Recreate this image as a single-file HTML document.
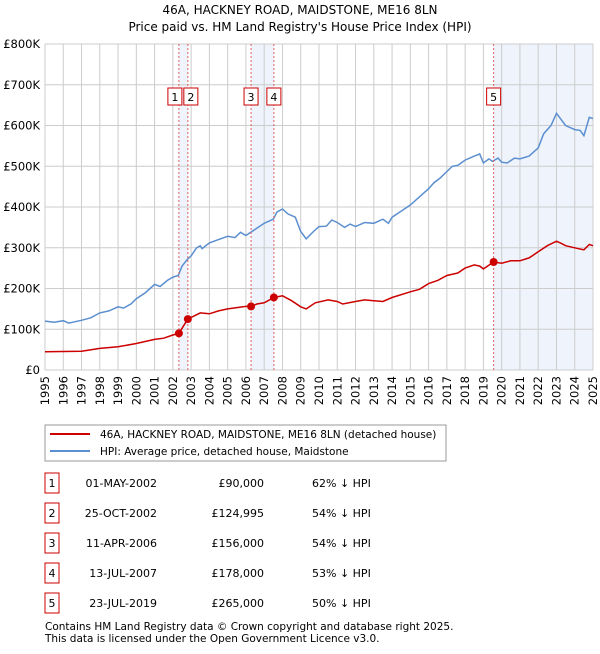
<!DOCTYPE html>
<html><head><meta charset="utf-8"><style>
body{margin:0;background:#fff;font-family:"DejaVu Sans","Liberation Sans",sans-serif;}
svg text{font-family:"DejaVu Sans","Liberation Sans",sans-serif;fill:#000}
</style></head><body>
<svg id="chart" width="600" height="650" viewBox="0 0 600 650" xmlns="http://www.w3.org/2000/svg">
<text x="300" y="14" font-size="12" text-anchor="middle">46A, HACKNEY ROAD, MAIDSTONE, ME16 8LN</text>
<text x="300" y="31" font-size="12" text-anchor="middle">Price paid vs. HM Land Registry's House Price Index (HPI)</text>
<g id="bands"></g><g id="grid"></g><g id="axes"></g><g id="lines"></g><g id="marks"></g>
<rect x="45" y="425" width="401" height="36" fill="#fff" stroke="#999"/>
<line x1="50" y1="434" x2="90" y2="434" stroke="#cc0000" stroke-width="2"/>
<text x="100" y="438" font-size="10.5">46A, HACKNEY ROAD, MAIDSTONE, ME16 8LN (detached house)</text>
<line x1="50" y1="451" x2="90" y2="451" stroke="#5b8fd0" stroke-width="2"/>
<text x="100" y="455" font-size="10.5">HPI: Average price, detached house, Maidstone</text>
<g id="table"></g>
<text x="45" y="630" font-size="10.5" fill="#333">Contains HM Land Registry data © Crown copyright and database right 2025.</text>
<text x="45" y="642" font-size="10.5" fill="#333">This data is licensed under the Open Government Licence v3.0.</text>
</svg>
<script>
const hpiX=[1995,1995.5,1996,1996.3,1997,1997.5,1998,1998.5,1999,1999.3,1999.7,2000,2000.5,2001,2001.3,2001.7,2002,2002.3,2002.5,2002.8,2003,2003.3,2003.5,2003.6,2004,2004.5,2005,2005.4,2005.7,2006,2006.5,2007,2007.5,2007.7,2008,2008.3,2008.7,2009,2009.3,2009.7,2010,2010.4,2010.7,2011,2011.4,2011.7,2012,2012.5,2013,2013.5,2013.8,2014,2014.5,2015,2015.5,2016,2016.3,2016.6,2017,2017.3,2017.6,2018,2018.5,2018.8,2019,2019.3,2019.5,2019.8,2020,2020.3,2020.7,2021,2021.5,2022,2022.3,2022.7,2023,2023.3,2023.5,2024,2024.3,2024.5,2024.8,2025];
const hpiY=[120,117,121,115,122,128,140,145,155,152,162,175,190,210,205,220,228,232,255,272,280,300,305,298,312,320,328,325,338,330,345,360,370,388,395,383,375,340,322,340,352,353,368,362,350,358,352,362,360,370,360,375,390,405,425,445,460,470,487,500,502,515,525,530,508,518,512,520,510,508,520,518,525,545,580,600,630,612,600,590,588,575,620,617];
const ppX=[1995,1997,1998,1999,2000,2001,2001.5,2002,2002.33,2002.82,2003.5,2004,2004.5,2005,2006,2006.28,2006.6,2007,2007.53,2008,2008.5,2009,2009.3,2009.8,2010.5,2011,2011.3,2012,2012.5,2013,2013.5,2014,2015,2015.5,2016,2016.5,2017,2017.6,2018,2018.5,2018.8,2019,2019.56,2020,2020.5,2021,2021.5,2022,2022.5,2023,2023.3,2023.5,2024,2024.5,2024.8,2025];
const ppY=[45,46,53,57,65,75,78,86,90,125,140,138,145,150,156,156,162,165,178,182,170,155,150,165,172,168,162,168,172,170,168,178,192,198,212,220,232,238,250,258,255,248,265,262,268,268,275,290,305,316,310,305,300,295,308,305];
const saleLabels=["1","2","3","4","5"];
const saleDates=[2002.33,2002.82,2006.28,2007.53,2019.56];
const salePrices=[90,124.995,156,178,265];
const saleDateText=["01-MAY-2002","25-OCT-2002","11-APR-2006","13-JUL-2007","23-JUL-2019"];
const salePriceText=["£90,000","£124,995","£156,000","£178,000","£265,000"];
const saleHpiText=["62% ↓ HPI","54% ↓ HPI","54% ↓ HPI","53% ↓ HPI","50% ↓ HPI"];
const yTicks=[0,100,200,300,400,500,600,700,800];
const yTickLabels=["£0","£100K","£200K","£300K","£400K","£500K","£600K","£700K","£800K"];
const xYears=[1995,1996,1997,1998,1999,2000,2001,2002,2003,2004,2005,2006,2007,2008,2009,2010,2011,2012,2013,2014,2015,2016,2017,2018,2019,2020,2021,2022,2023,2024,2025];

const NS="http://www.w3.org/2000/svg";
const X0=45,X1=593,Y0=370,Y1=44;
const sx=v=>X0+(v-1995)/30*(X1-X0);
const sy=v=>Y0-v/800*(Y0-Y1);
function mk(tag,attrs,parent,txt){const e=document.createElementNS(NS,tag);for(const k in attrs)e.setAttribute(k,attrs[k]);if(txt!==undefined)e.textContent=txt;document.getElementById(parent).appendChild(e);return e;}
// bands
[[0,1],[2,3]].forEach(([a,b],i)=>{const r=mk('rect',{x:sx(saleDates[a]),y:Y1,width:sx(saleDates[b])-sx(saleDates[a]),height:Y0-Y1,fill:'#eef3fc'},'bands');

});
{const r=mk('rect',{x:sx(saleDates[4]),y:Y1,width:X1-sx(saleDates[4]),height:Y0-Y1,fill:'#eef3fc'},'bands');

}
// grid
yTicks.forEach((t,i)=>{const l=mk('line',{x1:X0,x2:X1,y1:sy(t),y2:sy(t),stroke:'#ccc'},'grid');


const tx=mk('text',{x:X0-5,y:sy(t)+4,'font-size':11.5,'text-anchor':'end'},'axes',yTickLabels[i]);

});
xYears.forEach(yr=>{const l=mk('line',{x1:sx(yr),x2:sx(yr),y1:Y1,y2:Y0,stroke:'#ccc'},'grid');


const tx=mk('text',{x:0,y:0,'font-size':11.5,'text-anchor':'end',transform:`translate(${sx(yr)+4},${Y0+6}) rotate(-90)`},'axes',String(yr));

});
// sale vlines + labels
saleDates.forEach((d,i)=>{const l=mk('line',{x1:sx(d),x2:sx(d),y1:Y1,y2:Y0,stroke:'#e06060','stroke-dasharray':'2,2'},'marks');

});
// lines
const pts=(xs,ys)=>xs.map((x,i)=>sx(x).toFixed(1)+','+sy(ys[i]).toFixed(1)).join(' ');
const h=mk('polyline',{points:pts(hpiX,hpiY),fill:'none',stroke:'#5b8fd0','stroke-width':1.5},'lines');


const p=mk('polyline',{points:pts(ppX,ppY),fill:'none',stroke:'#cc0000','stroke-width':1.5},'lines');


saleDates.forEach((d,i)=>{const c=mk('circle',{cx:sx(d),cy:sy(salePrices[i]),r:4,fill:'#cc0000'},'marks');


let bx=sx(d)-7; if(i==0)bx=sx(d)-11; if(i==1)bx=sx(d)-4;
const r=mk('rect',{x:bx,y:88,width:14,height:17,fill:'#fff',stroke:'#cc0000'},'marks');


const t=mk('text',{x:bx+7,y:101,'font-size':11,'text-anchor':'middle'},'marks',saleLabels[i]);


// table
const ry=483+i*30;
const tb=mk('rect',{x:45,y:ry-10,width:14,height:20,fill:'#fff',stroke:'#cc0000'},'table');


const t1=mk('text',{x:52,y:ry+4,'font-size':11,'text-anchor':'middle'},'table',saleLabels[i]);


const t2=mk('text',{x:157,y:ry+4,'font-size':11,'text-anchor':'end'},'table',saleDateText[i]);


const t3=mk('text',{x:264,y:ry+4,'font-size':11,'text-anchor':'end'},'table',salePriceText[i]);


const t4=mk('text',{x:312,y:ry+4,'font-size':11},'table',saleHpiText[i]);

});
</script>
</body></html>
